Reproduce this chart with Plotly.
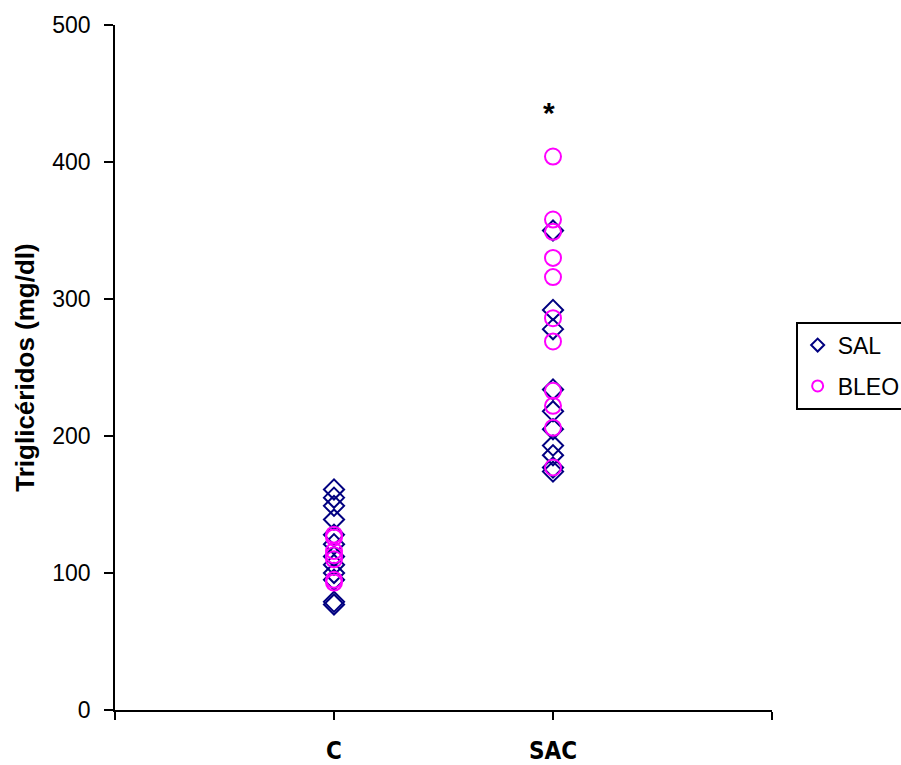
import plotly.graph_objects as go

# Group positions on the x axis (category axis drawn as numeric 0..3)
groups = {"C": 1, "SAC": 2}

# Triglyceride values (mg/dl) per group
sal_c = [161, 155, 149, 139, 128, 121, 112, 106, 100, 95, 79, 77]
sal_sac = [350, 292, 278, 234, 218, 205, 193, 186, 177, 174]
bleo_c = [128, 126, 116, 113, 110, 95, 93]
bleo_sac = [404, 358, 349, 330, 316, 286, 269, 233, 222, 206, 177]

tick_vals = [0, 1, 2, 3]
tick_text = ["", "C", "SAC", ""]
y_ticks = [0, 100, 200, 300, 400, 500]

NAVY = "#000080"
MAGENTA = "#FF00FF"

sal_x = [groups["C"]] * len(sal_c) + [groups["SAC"]] * len(sal_sac)
sal_y = sal_c + sal_sac
bleo_x = [groups["C"]] * len(bleo_c) + [groups["SAC"]] * len(bleo_sac)
bleo_y = bleo_c + bleo_sac

fig = go.Figure()
fig.add_trace(go.Scatter(
    x=sal_x, y=sal_y, mode="markers", name="SAL", showlegend=False,
    marker=dict(symbol="diamond-open", size=15.5, color=NAVY,
                line=dict(width=2, color=NAVY)),
))
fig.add_trace(go.Scatter(
    x=bleo_x, y=bleo_y, mode="markers", name="BLEO", showlegend=False,
    marker=dict(symbol="circle-open", size=16, color=MAGENTA,
                line=dict(width=2, color=MAGENTA)),
))
# legend entries with smaller key symbols
fig.add_trace(go.Scatter(
    x=[None], y=[None], mode="markers", name="SAL", legendgroup="sal",
    marker=dict(symbol="diamond-open", size=10, color=NAVY,
                line=dict(width=2, color=NAVY)),
))
fig.add_trace(go.Scatter(
    x=[None], y=[None], mode="markers", name="BLEO", legendgroup="bleo",
    marker=dict(symbol="circle-open", size=11, color=MAGENTA,
                line=dict(width=2, color=MAGENTA)),
))

# significance mark above SAC
fig.add_annotation(x=groups["SAC"], y=436, text="<b>*</b>", showarrow=False,
                   xshift=-4,
                   font=dict(family="Arial, Liberation Sans", size=30, color="black"))

fig.update_layout(
    width=901, height=765,
    margin=dict(l=115, r=129, t=25, b=55, autoexpand=False),
    paper_bgcolor="white", plot_bgcolor="white",
    font=dict(family="Arial, Liberation Sans", size=23, color="black"),
    showlegend=True,
    legend=dict(
        x=1.036, y=0.567, xanchor="left", yanchor="top",
        bordercolor="black", borderwidth=2, bgcolor="white",
        font=dict(size=23, color="black"),
        itemsizing="trace", tracegroupgap=8, itemwidth=30,
    ),
    xaxis=dict(
        range=[0, 3], tickmode="array", tickvals=tick_vals, ticktext=tick_text,
        showgrid=False, zeroline=False, showline=True, linecolor="black", linewidth=1.5,
        ticks="outside", ticklen=8, tickwidth=1.5, tickcolor="black",
        ticklabelstandoff=10, automargin=False,
        tickfont=dict(family="DejaVu Sans Condensed, DejaVu Sans", size=24,
                      color="black", weight="bold"),
    ),
    yaxis=dict(
        range=[0, 500], tickmode="array", tickvals=y_ticks,
        showgrid=False, zeroline=False, showline=True, linecolor="black", linewidth=1.5,
        ticks="outside", ticklen=9, tickwidth=1.5, tickcolor="black",
        ticklabelstandoff=9, automargin=False,
        tickfont=dict(size=23, color="black"),
        title=dict(text="<b>Triglicéridos (mg/dl)</b>", font=dict(size=26), standoff=10),
    ),
)

fig.write_html("out.html")
